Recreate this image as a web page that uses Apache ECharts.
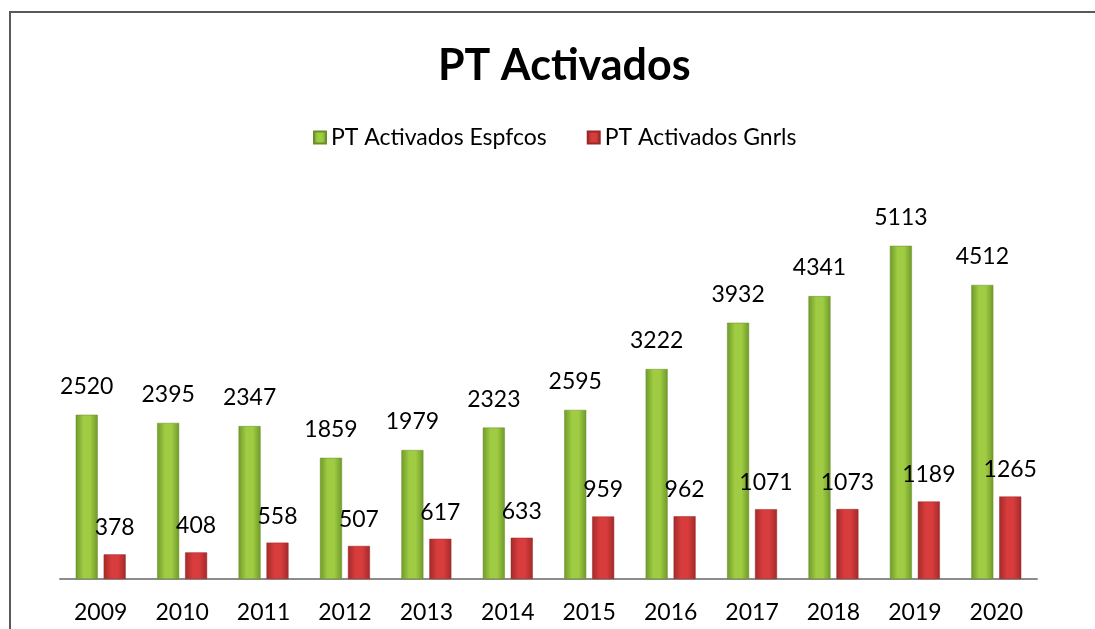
<!DOCTYPE html>
<html>
<head>
<meta charset="utf-8">
<script src="https://cdn.jsdelivr.net/npm/echarts@6/dist/echarts.min.js"></script>
<style>html,body{margin:0;padding:0;background:#fff}#c{width:1095px;height:629px}</style>
</head>
<body>
<div id="c"></div>
<script>
const years = ['2009','2010','2011','2012','2013','2014','2015','2016','2017','2018','2019','2020'];
const espfcos = [2520,2395,2347,1859,1979,2323,2595,3222,3932,4341,5113,4512];
const gnrls = [378,408,558,507,617,633,959,962,1071,1073,1189,1265];
const seriesNames = ['PT Activados Espfcos','PT Activados Gnrls'];

const font = 'Lato, "Open Sans", sans-serif';
function grad(edge, mid){
  return new echarts.graphic.LinearGradient(0,0,1,0,[
    {offset:0,color:edge},{offset:0.35,color:mid},{offset:0.65,color:mid},{offset:1,color:edge}
  ]);
}
const chart = echarts.init(document.getElementById('c'));
chart.setOption({
  animation:false,
  backgroundColor:'#fff',
  graphic:[{type:'rect',shape:{x:10,y:12,width:1200,height:800},style:{fill:'none',stroke:'#595959',lineWidth:2},silent:true}],
  title:{text:'PT Activados',left:433,top:40,textStyle:{fontFamily:font,fontSize:43,fontWeight:'bold',color:'#000'}},
  legend:{top:121,left:308,itemWidth:12,itemHeight:12,itemGap:40,icon:'rect',
    textStyle:{fontFamily:font,fontSize:23,color:'#000'},data:seriesNames},
  grid:{left:60,right:58,top:188,bottom:50},
  xAxis:{type:'category',data:years,axisTick:{show:false},
    axisLine:{lineStyle:{color:'#8c8c8c',width:2}},
    axisLabel:{fontFamily:font,fontSize:23,color:'#000',margin:22}},
  yAxis:{type:'value',min:0,max:6000,show:false,splitLine:{show:false}},
  series:[
    {name:seriesNames[0],type:'bar',data:espfcos,barWidth:22,barGap:'27%',
     itemStyle:{color:grad('#6f9a2a','#9fcc42'),borderColor:'#6a8f28',borderWidth:0.5},
     label:{show:true,position:'top',distance:17,fontFamily:font,fontSize:23,color:'#000'}},
    {name:seriesNames[1],type:'bar',data:gnrls,barWidth:22,
     itemStyle:{color:grad('#a32a2a','#d83c3c'),borderColor:'#9a2828',borderWidth:0.5},
     label:{show:true,position:'top',distance:15,fontFamily:font,fontSize:23,color:'#000'}}
  ]
});
</script>
</body>
</html>
